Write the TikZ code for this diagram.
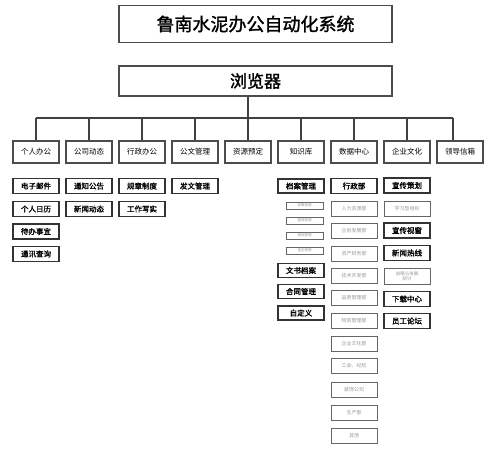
\documentclass[tikz,border=0pt]{standalone}
\usepackage{fontspec}
\setmainfont{Noto Sans CJK SC}
\newfontfamily\cjkb[FakeBold=1.5]{Noto Sans CJK SC}
\begin{document}
\begin{tikzpicture}[x=1pt,y=-1pt,
  title/.style={draw=black!70,line width=1.6pt,minimum width=273pt,minimum height=37pt,inner sep=0pt,font=\cjkb\fontsize{18}{20}\selectfont},
  brow/.style={draw=black!70,line width=1.6pt,minimum width=273pt,minimum height=30pt,inner sep=0pt,font=\cjkb\fontsize{17}{20}\selectfont},
  top/.style={draw=black!70,line width=1.2pt,minimum width=46pt,minimum height=22pt,inner sep=0pt,font=\fontsize{7.5}{9}\selectfont},
  sub/.style={draw=black!80,line width=1.2pt,minimum width=46pt,minimum height=15pt,inner sep=0pt,font=\cjkb\fontsize{7.5}{9}\selectfont},
  gsub/.style={draw=black!60,line width=1pt,minimum width=46pt,minimum height=15pt,inner sep=0pt,text=black!40,font=\fontsize{5}{6}\selectfont,align=center},
  tiny/.style={draw=black!60,line width=1pt,minimum width=37pt,minimum height=7pt,inner sep=0pt,text=black!40,font=\fontsize{3.5}{4}\selectfont},
  conn/.style={draw=black!75,line width=1.1pt}]
\fill[white] (0,0) rectangle (500,451);
\useasboundingbox (0,0) rectangle (500,451);

\node[title] (sys) at (255.5,24) {鲁南水泥办公自动化系统};
\node[brow] (llq) at (255.5,81) {浏览器};

\node[top] (t1) at (36,152) {个人办公};
\node[top] (t2) at (89,152) {公司动态};
\node[top] (t3) at (142,152) {行政办公};
\node[top] (t4) at (195,152) {公文管理};
\node[top] (t5) at (248,152) {资源预定};
\node[top] (t6) at (301,152) {知识库};
\node[top] (t7) at (354,152) {数据中心};
\node[top] (t8) at (407,152) {企业文化};
\node[top] (t9) at (460,152) {领导信箱};

\coordinate (hub) at (248,118);
\coordinate (hl) at (36,118);
\coordinate (hr) at (453,118);
\draw[conn] (llq.south -| hub) -- (hub);
\draw[conn] (hl) -- (hr);
\foreach \i in {1,2,3,4,6,7,8}{\draw[conn] (t\i.north |- hub) -- (t\i.north);}
\draw[conn] (hub) -- (t5.north);
\draw[conn] (hr) -- (hr |- t9.north);

% column 1
\node[sub] (a1) at (36,186) {电子邮件};
\node[sub] (a2) at (36,209) {个人日历};
\node[sub] (a3) at (36,231.5) {待办事宜};
\node[sub] (a4) at (36,254) {通讯查询};
% column 2
\node[sub] (b1) at (89,186) {通知公告};
\node[sub] (b2) at (89,209) {新闻动态};
% column 3
\node[sub] (c1) at (142,186) {规章制度};
\node[sub] (c2) at (142,209) {工作写实};
% column 4
\node[sub] (d1) at (195,186) {发文管理};
% column 6
\node[sub,minimum height=14pt] (e1) at (301,186) {档案管理};
\node[tiny] (e2) at (304.5,205.5) {收集管理};
\node[tiny] (e3) at (304.5,220.5) {整理管理};
\node[tiny] (e4) at (304.5,235.5) {借阅管理};
\node[tiny] (e5) at (304.5,250.5) {鉴定管理};
\node[sub,minimum height=14pt] (e6) at (301,270.5) {文书档案};
\node[sub,minimum height=14pt] (e7) at (301,291.5) {合同管理};
\node[sub,minimum height=14pt] (e8) at (301,313) {自定义};
% column 7
\node[sub] (f1) at (354,186) {行政部};
\node[gsub] (f2) at (354,208.5) {人力资源部};
\node[gsub] (f3) at (354,231) {企划发展部};
\node[gsub] (f4) at (354,253.5) {资产财务部};
\node[gsub] (f5) at (354,276) {技术开发部};
\node[gsub] (f6) at (354,298) {品质管理部};
\node[gsub] (f7) at (354,321) {物资管理部};
\node[gsub] (f8) at (354,343.5) {企业文化部};
\node[gsub] (f9) at (354,366) {工会、纪检};
\node[gsub] (f10) at (354,390) {装饰公司};
\node[gsub] (f11) at (354,413) {生产部};
\node[gsub] (f12) at (354,436) {其他};
% column 8
\node[sub] (g1) at (407,185.5) {宣传策划};
\node[gsub] (g2) at (407,208.5) {学习型组织};
\node[sub] (g3) at (407,230.5) {宣传视窗};
\node[sub] (g4) at (407,253) {新闻热线};
\node[gsub,minimum height=16pt,font=\fontsize{4.5}{5}\selectfont] (g5) at (407,276) {战略与发展\\研讨};
\node[sub] (g6) at (407,299) {下载中心};
\node[sub] (g7) at (407,321) {员工论坛};
\end{tikzpicture}
\end{document}
